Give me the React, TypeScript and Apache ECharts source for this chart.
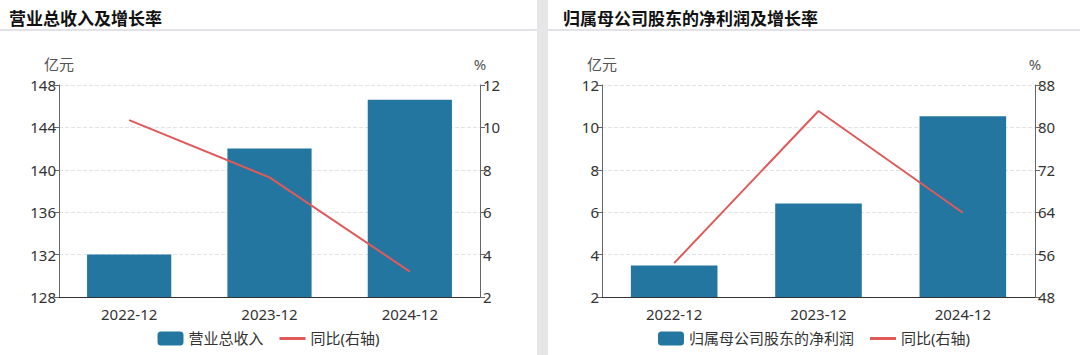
import React, { useEffect, useRef } from "react";
import * as echarts from "echarts";

const categories = ["2022-12", "2023-12", "2024-12"];
const revenue = [132.0, 142.0, 146.6];
const revenueYoY = [10.34, 7.64, 3.2];
const netProfit = [3.48, 6.41, 10.53];
const netProfitYoY = [54.4, 83.1, 63.9];

const BAR = "#22769f";
const LINE = "#e05a5a";
const FONT = "'Noto Sans', 'Noto Sans CJK SC', sans-serif";
const LINE_ICON = "path://M0,0H0.01V0.01H0Z M0,5.5H26V8.5H0Z M25.99,13.99H26V14H25.99Z";

function buildOption(o: {
  title: string;
  titleLeft: number;
  width: number;
  barName: string;
  bars: number[];
  line: number[];
  lMin: number; lMax: number; lInt: number;
  rMin: number; rMax: number; rInt: number;
  gridLeft: number; gridRight: number;
}) {
  const axisText = { color: "#333", fontSize: 15, fontFamily: FONT };
  const yBase = (min: number, max: number, interval: number, pos: "left" | "right") => ({
    type: "value",
    position: pos,
    min, max, interval,
    name: pos === "left" ? "亿元" : "%",
    nameLocation: "end",
    nameGap: 14,
    nameTextStyle: { color: "#555", fontSize: 15, fontFamily: FONT, align: "center" },
    axisLine: { show: true, lineStyle: { color: "#666", width: 1 } },
    axisTick: { show: true, length: 5, lineStyle: { color: "#666" } },
    axisLabel: { ...axisText, margin: 3 },
    splitLine: pos === "left"
      ? { show: true, lineStyle: { type: "dashed", color: "#e3e3e3" } }
      : { show: false },
  });
  return {
    animation: false,
    textStyle: { fontFamily: FONT },
    title: {
      text: o.title,
      left: o.titleLeft,
      top: 4,
      textStyle: { fontSize: 17, fontWeight: "bold", color: "#111", fontFamily: "'Noto Sans CJK SC', sans-serif" },
    },
    graphic: [
      { type: "rect", shape: { x: 0, y: 29, width: o.width, height: 2 }, style: { fill: "#e2e2e8" } },
    ],
    grid: { left: o.gridLeft, right: o.gridRight, top: 85, bottom: 58, containLabel: false },
    legend: {
      bottom: 4,
      left: "center",
      itemWidth: 26,
      itemHeight: 14,
      itemGap: 16,
      textStyle: { color: "#333", fontSize: 15, fontFamily: FONT },
      data: [
        { name: o.barName, icon: "roundRect" },
        { name: "同比(右轴)", icon: LINE_ICON },
      ],
    },
    xAxis: {
      type: "category",
      data: categories,
      axisLine: { lineStyle: { color: "#333" } },
      axisTick: { alignWithLabel: true, length: 6, lineStyle: { color: "#333" } },
      axisLabel: { ...axisText, margin: 9 },
    },
    yAxis: [yBase(o.lMin, o.lMax, o.lInt, "left"), yBase(o.rMin, o.rMax, o.rInt, "right")],
    series: [
      {
        name: o.barName,
        type: "bar",
        data: o.bars,
        barWidth: "60%",
        itemStyle: { color: BAR },
        yAxisIndex: 0,
      },
      {
        name: "同比(右轴)",
        type: "line",
        data: o.line,
        yAxisIndex: 1,
        showSymbol: false,
        symbol: "none",
        lineStyle: { color: LINE, width: 2 },
        itemStyle: { color: LINE },
      },
    ],
  };
}

function Chart({ option, style }: { option: any; style: React.CSSProperties }) {
  const ref = useRef<HTMLDivElement>(null);
  useEffect(() => {
    if (!ref.current) return;
    const c = echarts.init(ref.current, undefined, { renderer: "svg" });
    c.setOption(option);
    return () => c.dispose();
  }, []);
  return <div ref={ref} style={style} />;
}

export default function App() {
  useEffect(() => {
    document.body.style.margin = "0";
  }, []);
  const left = buildOption({
    title: "营业总收入及增长率",
    titleLeft: 4,
    width: 537,
    barName: "营业总收入",
    bars: revenue,
    line: revenueYoY,
    lMin: 128, lMax: 148, lInt: 4,
    rMin: 2, rMax: 12, rInt: 2,
    gridLeft: 59, gridRight: 57,
  });
  const right = buildOption({
    title: "归属母公司股东的净利润及增长率",
    titleLeft: 10,
    width: 532,
    barName: "归属母公司股东的净利润",
    bars: netProfit,
    line: netProfitYoY,
    lMin: 2, lMax: 12, lInt: 2,
    rMin: 48, rMax: 88, rInt: 8,
    gridLeft: 54, gridRight: 45,
  });
  return (
    <div style={{ position: "relative", width: 1080, height: 355, background: "#fff", overflow: "hidden" }}>
      <Chart option={left} style={{ position: "absolute", left: 0, top: 0, width: 537, height: 355 }} />
      <div style={{ position: "absolute", left: 537, top: 0, width: 11, height: 355, background: "#e6e6e8" }} />
      <Chart option={right} style={{ position: "absolute", left: 548, top: 0, width: 532, height: 355 }} />
    </div>
  );
}
